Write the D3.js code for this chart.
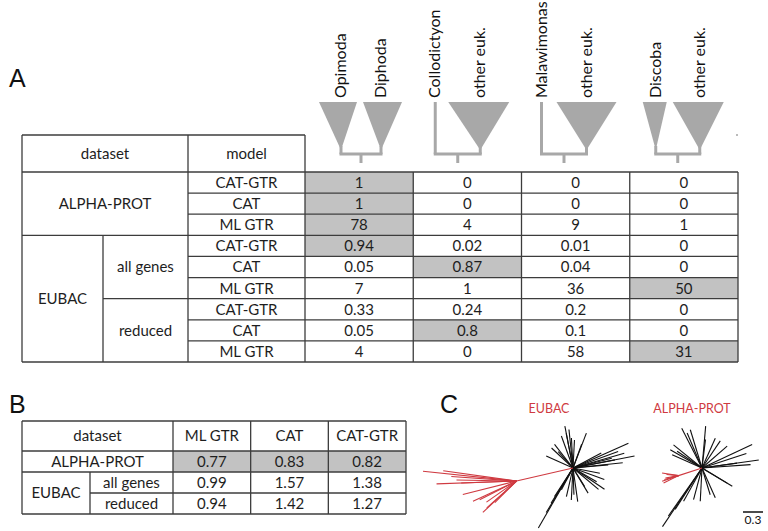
<!DOCTYPE html>
<html><head><meta charset="utf-8">
<script src="https://cdn.jsdelivr.net/npm/d3@7"></script>
<style>
html,body{margin:0;padding:0;background:#fff;}
svg{display:block;}
</style></head>
<body>
<div id="chart"></div>
<script>
// ---------- DATA ----------
const cladeLabels = [["Opimoda","Diphoda"],["Collodictyon","other euk."],["Malawimonas","other euk."],["Discoba","other euk."]];
// shape per clade: "tri" (collapsed clade) or "line" (single taxon)
const cladeShapes = [["tri","tri"],["line","tri"],["line","tri"],["tri","tri"]];
const datasetsA = ["ALPHA-PROT","EUBAC"];
const eubacSubsets = ["all genes","reduced"];
const modelsA = ["CAT-GTR","CAT","ML GTR","CAT-GTR","CAT","ML GTR","CAT-GTR","CAT","ML GTR"];
const supportValues = [
  [1,0,0,0],
  [1,0,0,0],
  [78,4,9,1],
  [0.94,0.02,0.01,0],
  [0.05,0.87,0.04,0],
  [7,1,36,50],
  [0.33,0.24,0.2,0],
  [0.05,0.8,0.1,0],
  [4,0,58,31]
];
const supportHighlight = [
  [1,0,0,0],[1,0,0,0],[1,0,0,0],
  [1,0,0,0],[0,1,0,0],[0,0,0,1],
  [0,0,0,0],[0,1,0,0],[0,0,0,1]
];
const modelsB = ["ML GTR","CAT","CAT-GTR"];
const rowsB = ["ALPHA-PROT","all genes","reduced"];
const lengthValuesB = [
  [0.77,0.83,0.82],
  [0.99,1.57,1.38],
  [0.94,1.42,1.27]
];
const highlightB = [[1,1,1],[0,0,0],[0,0,0]];
// unrooted trees: [angle (deg), branch length (subst./site)]
const eubacBlack = [[101,0.64],[96,0.58],[93,0.45],[110,0.51],[128,0.45],[137,0.44],[156,0.44],[132,0.33],[101,0.53],[87,0.42],[69,0.56],[70,0.38],
  [24,0.91],[20,0.72],[11,0.94],[6,0.75],[11,0.64],[5,0.53],[28,0.48],[16,0.8],[14,0.6],
  [-34,0.57],[-30,0.41],[-11,0.41],[-59,0.44],[-58,0.33],[-20,0.5],[-40,0.5],
  [-82,0.51],[-93,0.48],[-103,0.44],[-88,0.4],
  [-120,1.04],[-121,0.78],[-122,0.62],[-123,0.51],[-118,0.37]];
const eubacRedStem = [-167,0.87];
const eubacRed = [[174,1.41],[172,1.11],[176,0.98],[-178,1.20],[-178,0.83],[-166,0.83],[-153,0.62],[-137,0.69],[-138,0.60],[-135,0.46],[-155,0.72],[-145,0.55],[179,0.9]];
const alphaBlack = [[117,0.67],[113,0.57],[107,0.60],[85,0.63],[83,0.43],[56,0.49],[66,0.49],[41,0.50],[25,0.83],[8,0.86],[4,0.73],[8,0.53],[18,0.7],
  [-31,0.53],[-31,0.44],[-66,0.49],[-73,0.42],[-93,0.50],[-105,0.49],[-124,1.06],[-125,0.88],[-123,0.74],[-119,0.57],[150,0.55],[141,0.55],[146,0.45],[156,0.49]];
const alphaRedStem = [-162,0.37];
const alphaRed = [[171,0.25],[-154,0.25],[-170,0.20],[175,0.18],[-161,0.26],[-165,0.22]];
const scaleBarValue = 0.3;

// ---------- LAYOUT ----------
const W = 768, H = 531;
const lineCol = "#3c3c3c", shade = "#c2c2c2", grayShape = "#a8a8a8", red = "#cf3a41", txt = "#1e1e1e";
const tableFont = "Lato, 'Open Sans', sans-serif";

const svg = d3.select("#chart").append("svg").attr("width", W).attr("height", H);

function hline(g, x1, x2, y){ g.append("line").attr("x1",x1).attr("x2",x2).attr("y1",y).attr("y2",y); }
function vline(g, x, y1, y2){ g.append("line").attr("x1",x).attr("x2",x).attr("y1",y1).attr("y2",y2); }
function label(g, x, y, t, size){
  g.append("text").attr("x",x).attr("y",y).attr("dy","0.36em").attr("text-anchor","middle")
   .attr("font-family",tableFont).attr("font-size",size||15).attr("fill",txt).text(t);
}

// Panel letters
[["A",9,87],["B",9,413],["C",440,413]].forEach(([t,x,y]) => {
  svg.append("text").attr("x",x).attr("y",y).attr("font-family","'Liberation Sans', Arial, sans-serif")
    .attr("font-size",25).attr("fill","#111").text(t);
});

// ---------- TABLE A ----------
const aLeft = 22, aSub = 103, aModel = 188, aData = 305, aRight = 738, aTop = 135, aHead = 172, aBottom = 362;
const xA = d3.scaleBand().domain(d3.range(4)).range([aData, aRight]);
const yA = d3.scaleBand().domain(d3.range(modelsA.length)).range([aHead, aBottom]);
const gA = svg.append("g");

supportValues.forEach((row, i) => row.forEach((v, j) => {
  if (supportHighlight[i][j]) gA.append("rect").attr("x", xA(j)).attr("y", yA(i)).attr("width", xA.bandwidth()).attr("height", yA.bandwidth()).attr("fill", shade);
}));
supportValues.forEach((row, i) => row.forEach((v, j) => label(gA, xA(j) + xA.bandwidth()/2, yA(i) + yA.bandwidth()/2, String(v))));
modelsA.forEach((m, i) => label(gA, (aModel + aData)/2, yA(i) + yA.bandwidth()/2, m));
label(gA, (aLeft + aModel)/2, (aTop + aHead)/2, "dataset");
label(gA, (aModel + aData)/2, (aTop + aHead)/2, "model");
label(gA, (aLeft + aModel)/2, (yA(0) + yA(2) + yA.bandwidth())/2, datasetsA[0]);
label(gA, (aLeft + aSub)/2, (yA(3) + aBottom)/2, datasetsA[1]);
label(gA, (aSub + aModel)/2, (yA(3) + yA(5) + yA.bandwidth())/2, eubacSubsets[0]);
label(gA, (aSub + aModel)/2, (yA(6) + aBottom)/2, eubacSubsets[1]);

const lA = gA.append("g").attr("stroke", lineCol).attr("stroke-width", 1.3).attr("fill","none");
hline(lA, aLeft, aData, aTop);
hline(lA, aLeft, aRight, aHead);
hline(lA, aLeft, aRight, aBottom);
vline(lA, aLeft, aTop, aBottom);
vline(lA, aModel, aTop, aBottom);
vline(lA, aData, aTop, aBottom);
vline(lA, aRight, aHead, aBottom);
vline(lA, aSub, yA(3), aBottom);
[1,2,3].forEach(j => vline(lA, xA(j), aHead, aBottom));
d3.range(1, modelsA.length).forEach(i => {
  const x1 = (i === 3) ? aLeft : (i === 6 ? aSub : aModel);
  hline(lA, x1, aRight, yA(i));
});
// small stray mark at the top-right corner of the cartoon row
svg.append("line").attr("x1",736).attr("x2",738).attr("y1",135).attr("y2",135).attr("stroke","#777").attr("stroke-width",1);

// ---------- CLADE CARTOONS ----------
const cartoonTopY = 102, apexY = 150, bracketY = 154, stemY = 163, labelEndY = 98;
const shapeGeom = {
  0: [{l:14,r:52,a:36},{l:58,r:97,a:76}],
  1: [{a:22},{l:35,r:96,a:67}],
  2: [{a:20},{l:35,r:95,a:65}],
  3: [{l:13,r:37,a:26},{l:43,r:94,a:70}]
};
const gC = svg.append("g");
cladeLabels.forEach((pair, j) => {
  const x0 = xA(j);
  const geo = shapeGeom[j];
  const gb = gC.append("g").attr("stroke", grayShape).attr("stroke-width", 3).attr("fill","none");
  pair.forEach((lab, k) => {
    const s = geo[k];
    if (cladeShapes[j][k] === "tri") {
      gC.append("path").attr("d", `M${x0+s.l},${cartoonTopY}L${x0+s.r},${cartoonTopY}L${x0+s.a},${apexY}Z`).attr("fill", grayShape);
      vline(gb, x0+s.a, apexY-4, bracketY);
    } else {
      vline(gb, x0+s.a, cartoonTopY, bracketY);
    }
    gC.append("text").attr("transform", `translate(${x0 + s.a + 5},${labelEndY}) rotate(-90)`)
      .attr("text-anchor","start").attr("font-family","Lato, sans-serif").attr("font-size",16).attr("fill","#111")
      .text(lab);
  });
  const a1 = x0 + geo[0].a, a2 = x0 + geo[1].a, mid = (a1 + a2)/2;
  gb.append("path").attr("d", `M${a1-1.5},${bracketY}L${a2+1.5},${bracketY}`);
  vline(gb, mid, bracketY, stemY);
});

// ---------- TABLE B ----------
const bX = [22, 90, 173];
const bRight = 406, bTop = 421, bHead = 451, bBottom = 514;
const xB = d3.scaleBand().domain(d3.range(modelsB.length)).range([bX[2], bRight]);
const yB = d3.scaleBand().domain(d3.range(rowsB.length)).range([bHead, bBottom]);
const gB = svg.append("g");
lengthValuesB.forEach((row, i) => row.forEach((v, j) => {
  if (highlightB[i][j]) gB.append("rect").attr("x", xB(j)).attr("y", yB(i)).attr("width", xB.bandwidth()).attr("height", yB.bandwidth()).attr("fill", shade);
}));
lengthValuesB.forEach((row, i) => row.forEach((v, j) => label(gB, xB(j) + xB.bandwidth()/2, yB(i) + yB.bandwidth()/2, v.toFixed(2))));
modelsB.forEach((m, j) => label(gB, xB(j) + xB.bandwidth()/2, (bTop + bHead)/2, m));
label(gB, (bX[0] + bX[2])/2, (bTop + bHead)/2, "dataset");
label(gB, (bX[0] + bX[2])/2, yB(0) + yB.bandwidth()/2, rowsB[0]);
label(gB, (bX[0] + bX[1])/2, (yB(1) + bBottom)/2, "EUBAC");
label(gB, (bX[1] + bX[2])/2, yB(1) + yB.bandwidth()/2, rowsB[1]);
label(gB, (bX[1] + bX[2])/2, yB(2) + yB.bandwidth()/2, rowsB[2]);
const lB = gB.append("g").attr("stroke", lineCol).attr("stroke-width", 1.3);
hline(lB, bX[0], bRight, bTop);
hline(lB, bX[0], bRight, bHead);
hline(lB, bX[0], bRight, yB(1));
hline(lB, bX[1], bRight, yB(2));
hline(lB, bX[0], bRight, bBottom);
vline(lB, bX[0], bTop, bBottom);
vline(lB, bX[1], yB(1), bBottom);
vline(lB, bX[2], bTop, bBottom);
[1,2].forEach(j => vline(lB, xB(j), bTop, bBottom));
vline(lB, bRight, bTop, bBottom);

// ---------- TREES (panel C) ----------
const lenScale = d3.scaleLinear().domain([0, scaleBarValue]).range([0, 20]);
function polar(c, angle, len){
  const r = lenScale(len), t = angle * Math.PI / 180;
  return [c[0] + r*Math.cos(t), c[1] - r*Math.sin(t)];
}
function drawTree(center, black, redStem, reds){
  const g = svg.append("g").attr("fill","none").attr("stroke-width",1.1);
  black.forEach(([a,l]) => {
    const p = polar(center, a, l);
    g.append("line").attr("x1",center[0]).attr("y1",center[1]).attr("x2",p[0]).attr("y2",p[1]).attr("stroke","#111");
  });
  const hub = polar(center, redStem[0], redStem[1]);
  g.append("line").attr("x1",center[0]).attr("y1",center[1]).attr("x2",hub[0]).attr("y2",hub[1]).attr("stroke",red);
  reds.forEach(([a,l]) => {
    const p = polar(hub, a, l);
    g.append("line").attr("x1",hub[0]).attr("y1",hub[1]).attr("x2",p[0]).attr("y2",p[1]).attr("stroke",red);
  });
}
drawTree([573,468], eubacBlack, eubacRedStem, eubacRed);
drawTree([702,468], alphaBlack, alphaRedStem, alphaRed);
[["EUBAC",549],["ALPHA-PROT",692]].forEach(([t,x]) => {
  svg.append("text").attr("x",x).attr("y",413).attr("text-anchor","middle").attr("font-family","Lato, sans-serif")
    .attr("font-size",12.5).attr("fill",red).text(t);
});
svg.append("line").attr("x1",743).attr("x2",743 + lenScale(scaleBarValue)).attr("y1",512).attr("y2",512).attr("stroke","#111").attr("stroke-width",1.5);
svg.append("text").attr("x",743 + lenScale(scaleBarValue)/2).attr("y",524).attr("text-anchor","middle")
  .attr("font-family","Lato, sans-serif").attr("font-size",12).attr("fill","#111").text(String(scaleBarValue));
</script>
</body></html>
